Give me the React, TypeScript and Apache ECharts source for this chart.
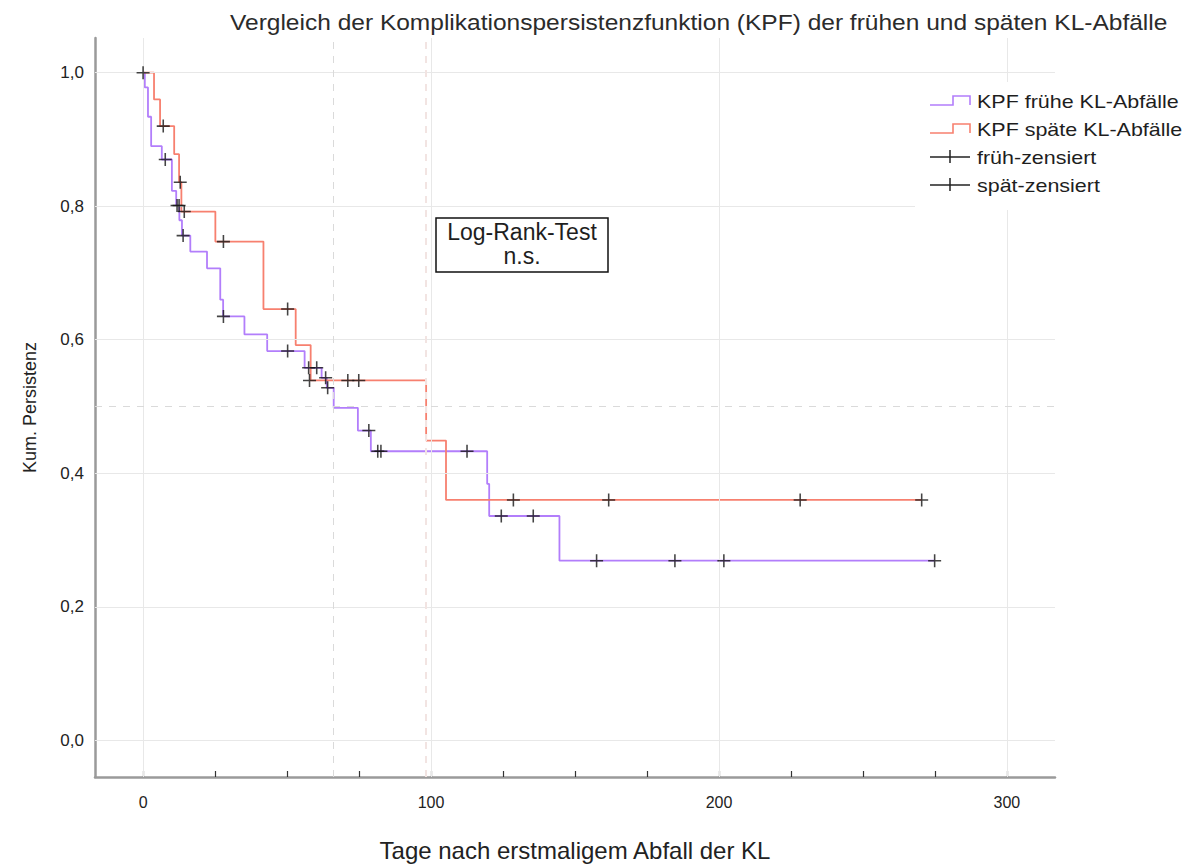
import React, { useEffect, useRef } from "react";
import * as echarts from "echarts";

// Kaplan-Meier Stufen (Tage, Persistenz) – frühe KL-Abfälle
const fruehTage = [0, 0.6, 1.7, 2.8, 6.5, 10.0, 11.5, 12.6, 13.5, 16.4, 22.2, 26.8, 27.8, 35.2, 43.1, 56.1, 62.0, 63.8, 66.2, 74.6, 79.1, 119.5, 120.2, 144.6, 274.9];
const fruehWerte = [1, 0.978, 0.934, 0.89, 0.87, 0.823, 0.801, 0.779, 0.756, 0.732, 0.707, 0.66, 0.635, 0.608, 0.583, 0.558, 0.543, 0.528, 0.498, 0.464, 0.433, 0.384, 0.336, 0.269, 0.269];

// späte KL-Abfälle
const spaetTage = [0, 3.8, 5.9, 10.8, 12.5, 13.3, 25.1, 41.8, 53.0, 58.2, 98.3, 105.2, 270.4];
const spaetWerte = [1, 0.96, 0.92, 0.878, 0.836, 0.792, 0.747, 0.646, 0.592, 0.539, 0.449, 0.36, 0.36];

// zensierte Fälle
const fruehZensiertTage = [0, 7.7, 11.8, 12.5, 13.9, 27.9, 50.2, 57.5, 60.3, 63.4, 64.1, 78.4, 81.5, 82.6, 112.5, 124.4, 135.5, 157.5, 184.7, 201.7, 274.9];
const fruehZensiertWerte = [1, 0.87, 0.801, 0.801, 0.756, 0.635, 0.583, 0.558, 0.558, 0.543, 0.528, 0.464, 0.433, 0.433, 0.433, 0.336, 0.336, 0.269, 0.269, 0.269, 0.269];
const spaetZensiertTage = [7.0, 12.9, 14.3, 27.9, 50.2, 57.8, 71.1, 74.9, 128.6, 161.7, 228.2, 270.4];
const spaetZensiertWerte = [0.92, 0.836, 0.792, 0.747, 0.646, 0.539, 0.539, 0.539, 0.36, 0.36, 0.36, 0.36];

// Achsen
const xTickWerte = [0, 25, 50, 75, 100, 125, 150, 175, 200, 225, 250, 275, 300];
const xLabelWerte = [0, 100, 200, 300];
const yLabelWerte = [0, 0.2, 0.4, 0.6, 0.8, 1.0];
const medianFrueh = 66.2;
const medianSpaet = 98.3;
const medianWert = 0.5;

const legendeTexte = ["KPF frühe KL-Abfälle", "KPF späte KL-Abfälle", "früh-zensiert", "spät-zensiert"];

const LILA = "#b27efb";
const ROT = "#f7806f";
const FONT = "'Liberation Sans', Arial, sans-serif";
const KREUZ = "path://M4.4,0h1.2v4.4h4.4v1.2h-4.4v4.4h-1.2v-4.4h-4.4v-1.2h4.4z";

const zip = (a: number[], b: number[]) => a.map((v, i) => [v, b[i]]);

export default function App() {
  const ref = useRef<HTMLDivElement>(null);
  useEffect(() => {
    if (!ref.current) return;
    const chart = echarts.init(ref.current, null, { renderer: "svg" });
    const legendY = [101, 129, 157, 185];
    const graphic: any[] = [
      {
        type: "text",
        x: 230,
        y: 22,
        scaleX: 1.115,
        style: {
          text: "Vergleich der Komplikationspersistenzfunktion (KPF) der frühen und späten KL-Abfälle",
          font: `22px ${FONT}`,
          fill: "#2b2b2b",
          verticalAlign: "middle",
          align: "left",
        },
        z: 100,
      },
      { type: "rect", shape: { x: 915, y: 82, width: 281, height: 128 }, style: { fill: "#fff" }, z: 100 },
      {
        type: "polyline",
        shape: { points: [[930, legendY[0] + 4], [953, legendY[0] + 4], [953, legendY[0] - 5], [970, legendY[0] - 5], [970, legendY[0] + 4]] },
        style: { stroke: LILA, lineWidth: 1.6, fill: "none" },
        z: 101,
      },
      {
        type: "polyline",
        shape: { points: [[930, legendY[1] + 4], [953, legendY[1] + 4], [953, legendY[1] - 5], [970, legendY[1] - 5], [970, legendY[1] + 4]] },
        style: { stroke: ROT, lineWidth: 1.6, fill: "none" },
        z: 101,
      },
    ];
    [2, 3].forEach((i) => {
      graphic.push({ type: "line", shape: { x1: 930, y1: legendY[i], x2: 970, y2: legendY[i] }, style: { stroke: "#222", lineWidth: 1.5 }, z: 101 });
      graphic.push({ type: "line", shape: { x1: 950, y1: legendY[i] - 7, x2: 950, y2: legendY[i] + 6 }, style: { stroke: "#222", lineWidth: 1.5 }, z: 101 });
    });
    legendeTexte.forEach((t, i) => {
      graphic.push({
        type: "text",
        x: 977,
        y: legendY[i],
        scaleX: 1.13,
        style: { text: t, font: `19px ${FONT}`, fill: "#1e1e1e", verticalAlign: "middle", align: "left" },
        z: 101,
      });
    });
    graphic.push({ type: "rect", shape: { x: 436, y: 218, width: 172, height: 54 }, style: { fill: "#fff", stroke: "#111", lineWidth: 1.5 }, z: 101 });
    graphic.push({
      type: "text",
      x: 522,
      y: 232,
      style: { text: "Log-Rank-Test", font: `23px ${FONT}`, fill: "#1e1e1e", align: "center", verticalAlign: "middle" },
      z: 102,
    });
    graphic.push({
      type: "text",
      x: 522,
      y: 256,
      style: { text: "n.s.", font: `23px ${FONT}`, fill: "#1e1e1e", align: "center", verticalAlign: "middle" },
      z: 102,
    });

    const dashed = { color: "#dadada", width: 1, type: [7, 7] };
    const option: any = {
      animation: false,
      backgroundColor: "#fff",
      textStyle: { fontFamily: FONT },
      grid: { left: 95, right: 141, top: 38, bottom: 85, containLabel: false },
      xAxis: {
        type: "value",
        min: -16.7,
        max: 316.7,
        name: "Tage nach erstmaligem Abfall der KL",
        nameLocation: "middle",
        nameGap: 61,
        nameTextStyle: { fontSize: 24, color: "#222", fontFamily: FONT },
        axisLine: { show: true, onZero: false, lineStyle: { color: "#9a9a9a", width: 2.5 } },
        axisTick: { show: true, inside: true, length: 6, customValues: xTickWerte, lineStyle: { color: "#333", width: 1.2 } },
        axisLabel: { customValues: xLabelWerte, fontSize: 16, color: "#222", margin: 17, fontFamily: FONT },
        splitLine: { show: false },
      },
      yAxis: {
        type: "value",
        min: -0.055,
        max: 1.052,
        name: "Kum. Persistenz",
        nameLocation: "middle",
        nameGap: 56,
        nameRotate: 90,
        nameTextStyle: { fontSize: 18, color: "#222", fontFamily: FONT },
        axisLine: { show: true, onZero: false, lineStyle: { color: "#9a9a9a", width: 2.5 } },
        axisTick: { show: false },
        axisLabel: {
          customValues: yLabelWerte,
          fontSize: 17,
          color: "#222",
          margin: 11,
          fontFamily: FONT,
          formatter: (v: number) => v.toFixed(1).replace(".", ","),
        },
        splitLine: { show: false },
      },
      series: [
        {
          type: "line",
          data: [],
          z: 1,
          silent: true,
          markLine: {
            silent: true,
            symbol: "none",
            label: { show: false },
            lineStyle: { color: "#e8e8e8", width: 1, type: "solid" },
            data: [
              ...xLabelWerte.map((v) => ({ xAxis: v })),
              ...yLabelWerte.map((v) => ({ yAxis: v })),
            ],
          },
        },
        {
          type: "line",
          data: [],
          z: 1,
          silent: true,
          markLine: {
            silent: true,
            symbol: "none",
            label: { show: false },
            lineStyle: dashed,
            data: [{ xAxis: medianFrueh }, { yAxis: medianWert }],
          },
        },
        {
          name: legendeTexte[0],
          type: "line",
          step: "end",
          data: zip(fruehTage, fruehWerte),
          showSymbol: false,
          symbol: "none",
          lineStyle: { color: LILA, width: 1.8 },
          z: 3,
        },
        {
          name: legendeTexte[1],
          type: "line",
          step: "end",
          data: zip(spaetTage, spaetWerte),
          showSymbol: false,
          symbol: "none",
          lineStyle: { color: ROT, width: 1.8 },
          z: 3,
        },
        {
          type: "line",
          data: [],
          z: 4,
          silent: true,
          markLine: {
            silent: true,
            symbol: "none",
            label: { show: false },
            lineStyle: { ...dashed, color: "#f2e4e2", width: 2 },
            data: [{ xAxis: medianSpaet }],
          },
        },
        {
          name: legendeTexte[2],
          type: "scatter",
          data: zip(fruehZensiertTage, fruehZensiertWerte),
          symbol: KREUZ,
          symbolSize: 13,
          itemStyle: { color: "#151515" },
          z: 5,
        },
        {
          name: legendeTexte[3],
          type: "scatter",
          data: zip(spaetZensiertTage, spaetZensiertWerte),
          symbol: KREUZ,
          symbolSize: 13,
          itemStyle: { color: "#151515" },
          z: 5,
        },
      ],
      graphic,
    };
    chart.setOption(option);
    return () => chart.dispose();
  }, []);
  return <div ref={ref} style={{ position: "absolute", left: 0, top: 0, width: 1196, height: 867 }} />;
}
